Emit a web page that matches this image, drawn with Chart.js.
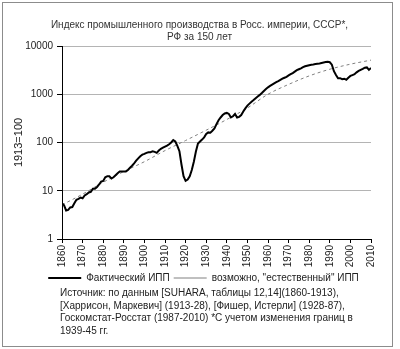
<!DOCTYPE html>
<html>
<head>
<meta charset="utf-8">
<script src="https://cdn.jsdelivr.net/npm/chart.js@4"></script>
<style>
  html, body { margin: 0; padding: 0; background: #fff; }
  #wrap { position: relative; width: 400px; height: 349px; }
  #frame { position: absolute; left: 2px; top: 2px; width: 391px; height: 345px;
           box-sizing: border-box; border: 1px solid #8c8c8c; pointer-events: none; }
  #note { position: absolute; left: 60px; top: 287px; white-space: nowrap;
          font: 10px/12.5px "Liberation Sans", Arial, sans-serif; color: #222; }
</style>
</head>
<body>
<div id="wrap">
  <canvas id="c" width="400" height="349"></canvas>
  <div id="frame"></div>
  <div id="note">Источник: по данным [SUHARA, таблицы 12,14](1860-1913),<br>[Харрисон, Маркевич] (1913-28), [Фишер, Истерли] (1928-87),<br>Госкомстат-Росстат (1987-2010) *С учетом изменения границ в<br>1939-45 гг.</div>
</div>
<script>
// Industrial production index, 1913 = 100
const years = [
  1860,1861,1862,1863,1864,1865,1866,1867,1868,1869,
  1870,1871,1872,1873,1874,1875,1876,1877,1878,1879,
  1880,1881,1882,1883,1884,1885,1886,1887,1888,1889,
  1890,1891,1892,1893,1894,1895,1896,1897,1898,1899,
  1900,1901,1902,1903,1904,1905,1906,1907,1908,1909,
  1910,1911,1912,1913,1914,1915,1916,1917,1918,1919,
  1920,1921,1922,1923,1924,1925,1926,1927,1928,1929,
  1930,1931,1932,1933,1934,1935,1936,1937,1938,1939,
  1940,1941,1942,1943,1944,1945,1946,1947,1948,1949,
  1950,1951,1952,1953,1954,1955,1956,1957,1958,1959,
  1960,1961,1962,1963,1964,1965,1966,1967,1968,1969,
  1970,1971,1972,1973,1974,1975,1976,1977,1978,1979,
  1980,1981,1982,1983,1984,1985,1986,1987,1988,1989,
  1990,1991,1992,1993,1994,1995,1996,1997,1998,1999,
  2000,2001,2002,2003,2004,2005,2006,2007,2008,2009,
  2010
];
const actualIndex = [
  5.5,5.0,3.9,4.0,4.5,4.6,5.5,6.5,6.8,7.2,
  7.0,8.0,8.5,9.2,9.5,11,11,12,13.5,15.5,
  16,19,20,20,18,19,21,23,25,25,
  25,25,27,30,33,37,42,47,52,56,
  58,61,63,63,66,64,61,68,74,78,
  82,86,92,100,112,105,85,66,35,20,
  16,17,20,27,40,65,95,105,115,128,
  150,162,160,175,195,240,290,330,370,400,
  410,390,330,350,390,330,340,370,440,510,
  580,640,700,760,830,900,970,1060,1170,1280,
  1390,1490,1580,1680,1780,1870,1980,2100,2200,2300,
  2450,2600,2750,2950,3150,3300,3450,3650,3800,3900,
  4000,4100,4150,4250,4300,4350,4450,4550,4650,4700,
  4600,4100,3000,2500,2150,2150,2050,2100,2000,2200,
  2400,2500,2600,2850,3050,3200,3350,3550,3600,3200,
  3500
];

// "Natural" growth path
const trendYears = [1860,1870,1880,1890,1900,1910,1920,1930,1940,1950,1960,1970,1980,1990,2000,2010];
const trendIndex = [5.1,8.5,15,25,40,68,110,180,300,520,1000,1600,2400,3300,4200,5100];

const yTicks = [1, 10, 100, 1000, 10000];

const titleLines = ['Индекс промышленного производства в Росс. империи, СССР*,', 'РФ за 150 лет'];
const seriesNames = ['Фактический ИПП', 'возможно, "естественный" ИПП'];

const FONT = '"Liberation Sans", Arial, sans-serif';

// centre the title and the legend row under the whole frame
const shiftBlocks = {
  id: 'shiftBlocks',
  afterLayout(chart) {
    chart.legend.left += 13;
    chart.legend.right += 13;
    chart.titleBlock.left += 9;
    chart.titleBlock.right += 9;
  }
};

new Chart(document.getElementById('c'), {
  type: 'line',
  data: {
    datasets: [
      {
        label: seriesNames[0],
        data: years.map((y, i) => ({ x: y, y: actualIndex[i] })),
        borderColor: '#000',
        borderWidth: 2,
        pointRadius: 0,
        tension: 0
      },
      {
        label: seriesNames[1],
        data: trendYears.map((y, i) => ({ x: y, y: trendIndex[i] })),
        borderColor: '#808080',
        borderWidth: 1,
        borderDash: [3, 3],
        pointRadius: 0,
        cubicInterpolationMode: 'monotone'
      }
    ]
  },
  options: {
    responsive: false,
    animation: false,
    devicePixelRatio: 1,
    layout: { padding: { left: 10, right: 29, top: 0, bottom: 56 } },
    plugins: {
      title: {
        display: true,
        text: titleLines,
        color: '#333',
        font: { family: FONT, size: 10, weight: 'normal', lineHeight: 1.2 },
        padding: { top: 19, bottom: 3 }
      },
      legend: {
        position: 'bottom',
        labels: {
          color: '#222',
          font: { family: FONT, size: 10 },
          usePointStyle: true,
          pointStyle: 'line',
          pointStyleWidth: 33,
          boxHeight: 10,
          padding: 4
        }
      },
      tooltip: { enabled: false }
    },
    scales: {
      x: {
        type: 'linear',
        min: 1860,
        max: 2010,
        ticks: {
          stepSize: 10,
          autoSkip: false,
          minRotation: 90,
          maxRotation: 90,
          color: '#222',
          font: { family: FONT, size: 10 },
          padding: 2,
          callback: v => String(v)
        },
        grid: { drawOnChartArea: false, drawTicks: true, tickLength: 4, tickColor: '#000' },
        border: { color: '#000', width: 1 },
        afterFit(scale) { scale.height = 30; }
      },
      y: {
        type: 'logarithmic',
        min: 1,
        max: 10000,
        afterBuildTicks(scale) { scale.ticks = yTicks.map(v => ({ value: v })); },
        ticks: {
          color: '#222',
          font: { family: FONT, size: 10 },
          padding: 4,
          callback: v => String(v)
        },
        grid: { color: '#b4b4b4', tickColor: '#000', tickLength: 5 },
        border: { color: '#000', width: 1 },
        title: {
          display: true,
          text: '1913=100',
          color: '#222',
          font: { family: FONT, size: 11 },
          padding: { top: 2, bottom: 0 }
        },
        afterFit(scale) { scale.width = 52; }
      }
    }
  },
  plugins: [shiftBlocks]
});
</script>
</body>
</html>
